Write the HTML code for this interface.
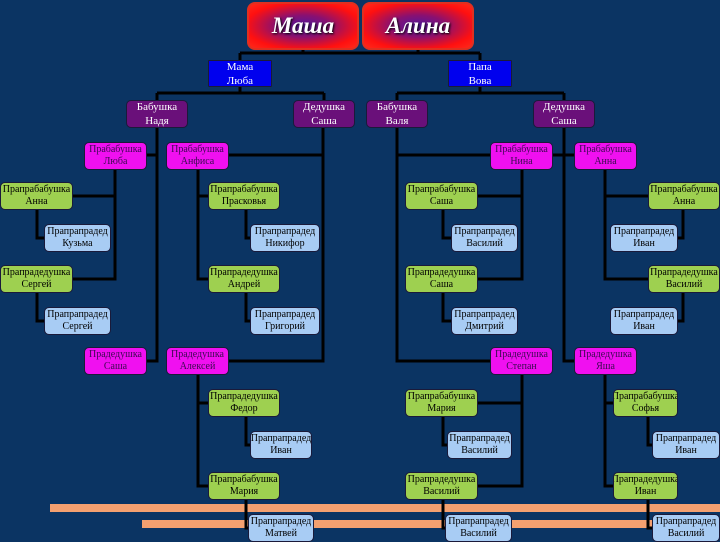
<!DOCTYPE html>
<html><head><meta charset="utf-8"><style>
body{margin:0;width:720px;height:540px;overflow:hidden;background:#0b3463;position:relative;font-family:"Liberation Serif",serif}
.b{position:absolute;box-sizing:border-box;border:1px solid #1a1a3a;border-radius:5px;font-size:10px;line-height:12px;text-align:center;display:flex;align-items:center;justify-content:center;color:#000;white-space:nowrap;overflow:hidden}
.t{border-radius:8px;background:radial-gradient(ellipse at center,#5018a0 0%,#8a1070 35%,#ff1010 75%,#ff2a1a 100%);color:#fff;font-size:23px;font-weight:bold;font-style:italic;text-shadow:1px 1px 2px #000;border:2px solid #e03020}
.p{background:#0000ee;color:#fff;border-radius:1px;font-size:11px;line-height:14px}
.v{background:#6a107a;color:#fff;font-size:11px;line-height:14px}
.m{background:#f010f0;color:#3a0a50}
.g{background:#9ed050}
.l{background:#a8ccf4}
.o{position:absolute;background:#f4a070;height:8px}
</style></head><body>
<div class="o" style="left:50px;top:504px;width:670px"></div>
<div class="o" style="left:142px;top:520px;width:578px"></div>
<svg width="720" height="540" style="position:absolute;left:0;top:0" fill="none" stroke="#000" stroke-width="3">
<path d="M303 50V53M418 50V53M240 53H480M240 53V60M480 53V60"/>
<path d="M240 87V93M157 93H324M157 93V100M324 93V100M480 87V93M397 93H564M397 93V100M564 93V100"/>
<path d="M157 128V361H147M147 155H157M323 128V361H229M229 155H323"/>
<path d="M397 128V361H490M397 155H490M564 128V361H574M553 155H574"/>
<path d="M115 170V279H73M73 196H115M37 210V238H44M37 293V321H44"/>
<path d="M198 170V279H208M198 196H208M246 210V238H250M246 293V321H250"/>
<path d="M198 375V486H208M198 403H208M246 417V445H250M246 500V528H248"/>
<path d="M522 170V279H478M478 196H522M443 210V238H451M443 293V321H451"/>
<path d="M605 170V279H648M605 196H648M683 210V238H678M683 293V321H678"/>
<path d="M522 375V486H478M478 403H522M443 417V445H447M443 500V528H445"/>
<path d="M605 375V486H613M605 403H613M648 417V445H652M648 500V528H652"/>
</svg>
<div class="b t" style="left:247px;top:2px;width:112px;height:48px">Маша</div>
<div class="b t" style="left:362px;top:2px;width:112px;height:48px">Алина</div>
<div class="b p" style="left:208px;top:60px;width:64px;height:27px">Мама<br>Люба</div>
<div class="b p" style="left:448px;top:60px;width:64px;height:27px">Папа<br>Вова</div>
<div class="b v" style="left:126px;top:100px;width:62px;height:28px">Бабушка<br>Надя</div>
<div class="b v" style="left:293px;top:100px;width:62px;height:28px">Дедушка<br>Саша</div>
<div class="b v" style="left:366px;top:100px;width:62px;height:28px">Бабушка<br>Валя</div>
<div class="b v" style="left:533px;top:100px;width:62px;height:28px">Дедушка<br>Саша</div>
<div class="b m" style="left:84px;top:142px;width:63px;height:28px">Прабабушка<br>Люба</div>
<div class="b m" style="left:166px;top:142px;width:63px;height:28px">Прабабушка<br>Анфиса</div>
<div class="b m" style="left:490px;top:142px;width:63px;height:28px">Прабабушка<br>Нина</div>
<div class="b m" style="left:574px;top:142px;width:63px;height:28px">Прабабушка<br>Анна</div>
<div class="b g" style="left:0;top:182px;width:73px;height:28px">Прапрабабушка<br>Анна</div>
<div class="b g" style="left:208px;top:182px;width:72px;height:28px">Прапрабабушка<br>Прасковья</div>
<div class="b g" style="left:405px;top:182px;width:73px;height:28px">Прапрабабушка<br>Саша</div>
<div class="b g" style="left:648px;top:182px;width:72px;height:28px">Прапрабабушка<br>Анна</div>
<div class="b l" style="left:44px;top:224px;width:67px;height:28px">Прапрапрадед<br>Кузьма</div>
<div class="b l" style="left:250px;top:224px;width:70px;height:28px">Прапрапрадед<br>Никифор</div>
<div class="b l" style="left:451px;top:224px;width:67px;height:28px">Прапрапрадед<br>Василий</div>
<div class="b l" style="left:610px;top:224px;width:68px;height:28px">Прапрапрадед<br>Иван</div>
<div class="b g" style="left:0;top:265px;width:73px;height:28px">Прапрадедушка<br>Сергей</div>
<div class="b g" style="left:208px;top:265px;width:72px;height:28px">Прапрадедушка<br>Андрей</div>
<div class="b g" style="left:405px;top:265px;width:73px;height:28px">Прапрадедушка<br>Саша</div>
<div class="b g" style="left:648px;top:265px;width:72px;height:28px">Прапрадедушка<br>Василий</div>
<div class="b l" style="left:44px;top:307px;width:67px;height:28px">Прапрапрадед<br>Сергей</div>
<div class="b l" style="left:250px;top:307px;width:70px;height:28px">Прапрапрадед<br>Григорий</div>
<div class="b l" style="left:451px;top:307px;width:67px;height:28px">Прапрапрадед<br>Дмитрий</div>
<div class="b l" style="left:610px;top:307px;width:68px;height:28px">Прапрапрадед<br>Иван</div>
<div class="b m" style="left:84px;top:347px;width:63px;height:28px">Прадедушка<br>Саша</div>
<div class="b m" style="left:166px;top:347px;width:63px;height:28px">Прадедушка<br>Алексей</div>
<div class="b m" style="left:490px;top:347px;width:63px;height:28px">Прадедушка<br>Степан</div>
<div class="b m" style="left:574px;top:347px;width:63px;height:28px">Прадедушка<br>Яша</div>
<div class="b g" style="left:208px;top:389px;width:72px;height:28px">Прапрадедушка<br>Федор</div>
<div class="b g" style="left:405px;top:389px;width:73px;height:28px">Прапрабабушка<br>Мария</div>
<div class="b g" style="left:613px;top:389px;width:65px;height:28px">Прапрабабушка<br>Софья</div>
<div class="b l" style="left:250px;top:431px;width:62px;height:28px">Прапрапрадед<br>Иван</div>
<div class="b l" style="left:447px;top:431px;width:65px;height:28px">Прапрапрадед<br>Василий</div>
<div class="b l" style="left:652px;top:431px;width:68px;height:28px">Прапрапрадед<br>Иван</div>
<div class="b g" style="left:208px;top:472px;width:72px;height:28px">Прапрабабушка<br>Мария</div>
<div class="b g" style="left:405px;top:472px;width:73px;height:28px">Прапрадедушка<br>Василий</div>
<div class="b g" style="left:613px;top:472px;width:65px;height:28px">Прапрадедушка<br>Иван</div>
<div class="b l" style="left:248px;top:514px;width:66px;height:28px">Прапрапрадед<br>Матвей</div>
<div class="b l" style="left:445px;top:514px;width:67px;height:28px">Прапрапрадед<br>Василий</div>
<div class="b l" style="left:652px;top:514px;width:68px;height:28px">Прапрапрадед<br>Василий</div>
</body></html>
